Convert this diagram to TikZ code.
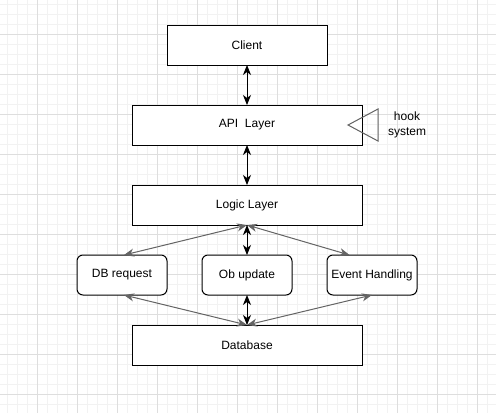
\documentclass[tikz,border=0pt]{standalone}
\usepackage{fontspec}
\setmainfont{Liberation Sans}
\usepackage{xcolor}
\definecolor{gridminor}{RGB}{242, 242, 242}
\definecolor{gridmajor}{RGB}{222, 222, 222}
\definecolor{edgegray}{RGB}{100, 100, 100}
\usepackage{tikz}
\usetikzlibrary{
    arrows.meta,
    positioning,
    calc
}

\begin{document}
\begin{tikzpicture}[
    x=1pt, y=-1pt,
    block/.style={
        rectangle, draw, line width=1pt, fill=white, minimum width=230pt,
        minimum height=40pt, inner sep=0pt, outer sep=0pt, align=center,
        font=\fontsize{12pt}{15pt}\selectfont
    },
    subblock/.style={
        block, rounded corners=6pt, minimum width=90pt
    },
    link/.style={
        {Stealth[length=10pt,width=8pt,inset=3pt]}-{Stealth[length=10pt,width=8pt,inset=3pt]},
        line width=1pt
    },
    sidelink/.style={link, draw=edgegray}
]
    % Background grid
    \useasboundingbox (0,0) rectangle (496,413);
    \fill[white] (0,0) rectangle (496,413);
    \foreach \x in {0,...,49} {
        \draw[gridminor,line width=0.8pt] (7.3+10*\x,0) -- (7.3+10*\x,413);
    }
    \foreach \y in {0,...,41} {
        \draw[gridminor,line width=0.8pt] (0,4.7+10*\y) -- (496,4.7+10*\y);
    }
    \foreach \x in {0,...,11} {
        \draw[gridmajor,line width=0.8pt] (37.3+40*\x,0) -- (37.3+40*\x,413);
    }
    \foreach \y in {0,...,9} {
        \draw[gridmajor,line width=0.8pt] (0,34.7+40*\y) -- (496,34.7+40*\y);
    }

    \node[block,minimum width=160pt] (client) at (247,45) {Client};
    \node[block,below=40pt of client] (api) {API\ \ Layer};
    \node[block,below=40pt of api] (logic) {Logic Layer};
    \node[subblock,below=30pt of logic] (obupd) {Ob update};
    \node[subblock,left=35pt of obupd] (dbreq) {DB request};
    \node[subblock,right=35pt of obupd] (evhand) {Event Handling};
    \node[block,below=30pt of obupd] (database) {Database};

    % Hook
    \draw[edgegray,line width=1pt,line join=miter]
        (378,109) -- (348,125) -- (378,141) -- cycle;
    \node[font=\fontsize{12pt}{15pt}\selectfont,align=center,inner sep=0pt]
        (hook) at (407,125) {hook\\system};

    % Arrows
    \foreach \a/\b in {client/api,api/logic,logic/obupd,obupd/database} {
        \draw[link] (\a.south) -- (\b.north);
    }
    \coordinate (evtop) at ($(evhand.north west)!0.25!(evhand.north east)$);
    \draw[sidelink] (logic.south) -- ($(dbreq.north)+(2,0)$);
    \draw[sidelink] (logic.south) -- (evtop);
    \draw[sidelink] (database.north) -- ($(dbreq.south)+(2,0)$);
    \draw[sidelink] (database.north) -- (evhand.south);
\end{tikzpicture}
\end{document}
